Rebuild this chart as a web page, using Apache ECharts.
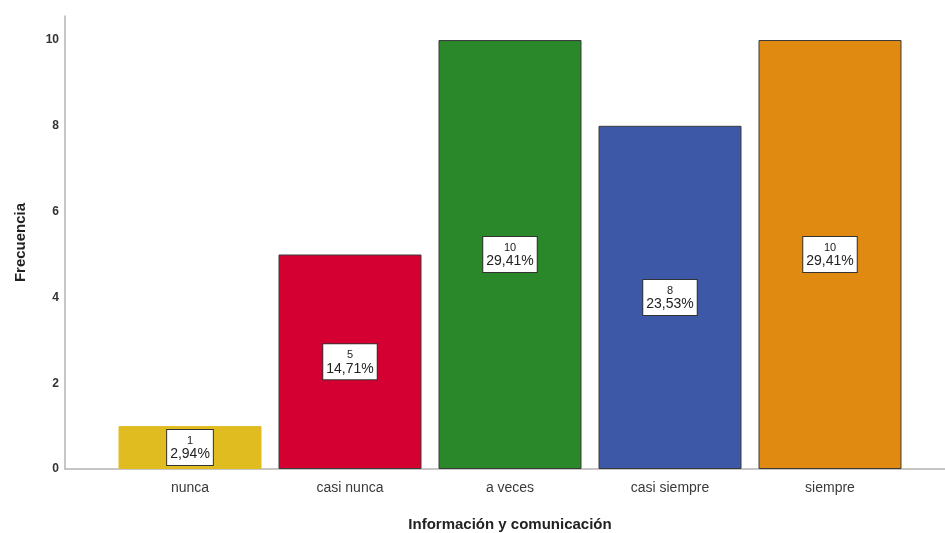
<!DOCTYPE html>
<html>
<head>
<meta charset="utf-8">
<script src="https://cdn.jsdelivr.net/npm/echarts@6/dist/echarts.min.js"></script>
<style>
  html, body { margin: 0; padding: 0; background: #fff; }
  #chart { width: 945px; height: 533px; }
</style>
</head>
<body>
<div id="chart"></div>
<script>
// Frequencies for "Información y comunicación"
const categories = ['nunca', 'casi nunca', 'a veces', 'casi siempre', 'siempre'];
const counts = [1, 5, 10, 8, 10];
const barColors = ['#E1BC20', '#D50032', '#2A872A', '#3E58A8', '#E08A12'];
const yTicks = [0, 2, 4, 6, 8, 10];

const total = counts.reduce((a, b) => a + b, 0);
const pct = v => (v / total * 100).toFixed(2).replace('.', ',') + '%';

const TOP = 16, BOTTOM = 64, YMAX = 10.56;

const chart = echarts.init(document.getElementById('chart'), null, { renderer: 'canvas' });

chart.setOption({
  backgroundColor: '#ffffff',
  animation: false,
  grid: [
    // bar area
    { left: 110, width: 800, top: TOP, bottom: BOTTOM, outerBoundsMode: 'none' },
    // frame carrying the visible axes
    { left: 65, right: 0, top: TOP, bottom: BOTTOM, outerBoundsMode: 'none' }
  ],
  xAxis: [
    {
      type: 'category', gridIndex: 0, data: categories,
      axisLine: { show: false }, axisTick: { show: false },
      axisLabel: { color: '#3a3a3a', fontSize: 14, fontFamily: 'Liberation Sans, Arial, sans-serif', margin: 12 },
      name: 'Información y comunicación', nameLocation: 'middle', nameGap: 48,
      nameTextStyle: { color: '#222', fontSize: 15, fontWeight: 'bold', fontFamily: 'Liberation Sans, Arial, sans-serif' }
    },
    {
      type: 'value', gridIndex: 1, min: 0, max: 1,
      axisLine: { show: true, lineStyle: { color: '#b4b4b4', width: 1.5 } },
      axisTick: { show: false }, axisLabel: { show: false }, splitLine: { show: false }
    }
  ],
  yAxis: [
    {
      type: 'value', gridIndex: 0, min: 0, max: YMAX,
      show: false, splitLine: { show: false }
    },
    {
      type: 'value', gridIndex: 1, min: 0, max: YMAX, interval: 2,
      axisLine: { show: true, lineStyle: { color: '#b4b4b4', width: 1.5 } },
      axisTick: { show: false }, splitLine: { show: false },
      axisLabel: {
        color: '#333', fontSize: 12, fontWeight: 'bold', margin: 6,
        fontFamily: 'Liberation Sans, Arial, sans-serif',
        formatter: v => (yTicks.indexOf(v) >= 0 ? String(v) : '')
      },
      name: 'Frecuencia', nameLocation: 'middle', nameGap: 37, nameRotate: 90,
      nameTextStyle: { color: '#222', fontSize: 15, fontWeight: 'bold', fontFamily: 'Liberation Sans, Arial, sans-serif' }
    }
  ],
  series: [
    {
      type: 'bar', xAxisIndex: 0, yAxisIndex: 0,
      barWidth: 143,
      data: counts.map((v, i) => ({
        value: v,
        itemStyle: {
          color: barColors[i],
          borderColor: i === 0 ? barColors[i] : '#3a3a3a',
          borderWidth: 1
        }
      })),
      label: {
        show: true, position: 'inside',
        backgroundColor: '#ffffff', borderColor: '#333', borderWidth: 1,
        padding: [5, 3, 3, 3], lineHeight: 13,
        fontFamily: 'Liberation Sans, Arial, sans-serif',
        formatter: p => '{n|' + p.value + '}\n{p|' + pct(p.value) + '}',
        rich: {
          n: { fontSize: 11, color: '#222', lineHeight: 12, align: 'center' },
          p: { fontSize: 14, color: '#222', lineHeight: 15, align: 'center' }
        }
      }
    }
  ]
});
</script>
</body>
</html>
